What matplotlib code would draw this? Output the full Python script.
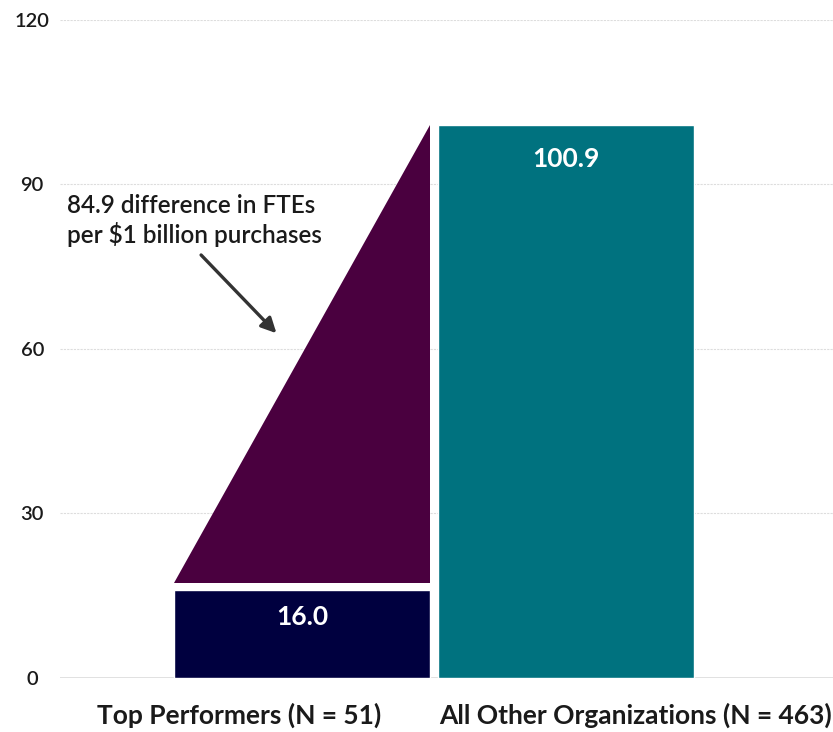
import matplotlib.pyplot as plt

# data
categories = ['Top Performers (N = 51)', 'All Other Organizations (N = 463)']
values = [16.0, 100.9]
difference = 84.9
y_ticks = [0, 30, 60, 90, 120]
note = '84.9 difference in FTEs\nper $1 billion purchases'

bar_colors = ['#00003F', '#00727F']
tri_color = '#4A003F'

plt.rcParams['font.family'] = ['Lato', 'DejaVu Sans']

fig = plt.figure(figsize=(8.33, 7.32), dpi=100)
ax = fig.add_axes([0.072, 0.0738, 0.928, 0.899])

w = 0.97
xs = list(range(len(categories)))
ax.bar(xs, values, width=w, color=bar_colors, edgecolor='white', linewidth=1.0, zorder=3)

# triangle showing the gap between the two groups
gap = 1.3
base = values[0] + gap
top = values[0] + difference
x0 = xs[0]
ax.fill([x0 - w / 2, x0 + w / 2, x0 + w / 2], [base, base, top],
        color=tri_color, linewidth=0, zorder=2)

label_offsets = [-19, -25]
for x, v, off in zip(xs, values, label_offsets):
    ax.annotate(f'{v:.1f}', (x, v), xytext=(0, off), textcoords='offset points',
                ha='center', va='center', color='white', fontsize=19, fontweight='bold', zorder=4)

ax.text(-0.89, 83.4, note, ha='left', va='center', fontsize=17.5, fontweight='semibold',
        color='#1a1a1a', linespacing=1.25)
ax.annotate('', xy=(-0.09, 62.5), xytext=(-0.39, 77.5),
            arrowprops=dict(arrowstyle='-|>,head_length=0.9,head_width=0.45', color='#333333', lw=2.4))

ax.set_ylim(0, 120)
ax.set_xlim(-0.917, 2.01)
ax.set_yticks(y_ticks)
ax.set_yticklabels([str(t) for t in y_ticks], fontsize=14.5, color='#1a1a1a', fontweight='semibold')
# category labels sit off-centre in the original layout
ax.set_xticks([-0.24, 1.263])
ax.set_xticklabels(categories, fontsize=19, fontweight='bold', color='#1a1a1a')
ax.tick_params(axis='both', length=0)
ax.tick_params(axis='x', pad=18)
for lab in ax.get_yticklabels():
    lab.set_horizontalalignment('center')
ax.yaxis.set_tick_params(pad=20)

ax.grid(axis='y', color='#DDDDDD', linestyle=(0, (2, 1)), linewidth=0.8, zorder=0)
ax.axhline(0, color='#DDDDDD', linewidth=1.2, zorder=1)
for s in ax.spines.values():
    s.set_visible(False)

fig.savefig('out.png', dpi=100)
